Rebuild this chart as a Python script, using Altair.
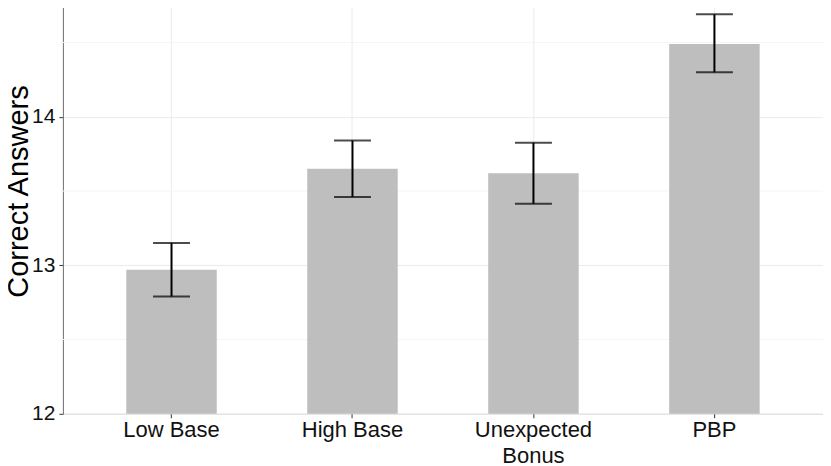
import altair as alt
import pandas as pd

categories = ["Low Base", "High Base", "Unexpected Bonus", "PBP"]
means = [12.97, 13.65, 13.62, 14.49]
lower = [12.79, 13.46, 13.415, 14.30]
upper = [13.15, 13.84, 13.825, 14.69]
minor_grid = [12.5, 13.5, 14.5]

df = pd.DataFrame({"cond": categories, "mean": means, "lo": lower, "hi": upper})
grid_df = pd.DataFrame({"g": minor_grid})

FONT = "Liberation Sans"

x_enc = alt.X(
    "cond:N",
    sort=categories,
    scale=alt.Scale(paddingInner=0.5, paddingOuter=0.35),
    axis=alt.Axis(
        title=None,
        domain=False,
        grid=True,
        gridColor="#EBEBEB",
        gridWidth=1,
        bandPosition=0.5,
        tickSize=4,
        tickColor="#333333",
        labelPadding=2,
        labelFontSize=22,
        labelLineHeight=25.5,
        labelColor="#111111",
        labelAngle=0,
        labelExpr="datum.label == 'Unexpected Bonus' ? ['Unexpected', 'Bonus'] : datum.label",
    ),
)

y_scale = alt.Scale(domain=[12, 15], nice=False, zero=False)

bars = alt.Chart(df).mark_bar(color="#BEBEBE").encode(
    x=x_enc,
    y=alt.Y(
        "mean:Q",
        scale=y_scale,
        axis=alt.Axis(
            title="Correct Answers",
            values=[12, 13, 14],
            format="d",
            grid=True,
            gridColor="#EBEBEB",
            gridWidth=1,
            domain=True,
            domainColor="#777777",
            tickSize=4,
            tickColor="#333333",
            labelPadding=4,
            labelFontSize=21,
            labelColor="#111111",
            titleFontSize=29,
            titleFontWeight="normal",
            titleColor="#000000",
            titleBaseline="alphabetic",
            titleX=-35,
        ),
    ),
    y2=alt.datum(12),
)

minor = alt.Chart(grid_df).mark_rule(color="#F5F5F5", strokeWidth=1).encode(
    y=alt.Y("g:Q", scale=y_scale)
)

whisk = alt.Chart(df).mark_rule(color="black", strokeWidth=2).encode(
    x=alt.X("cond:N", sort=categories),
    y=alt.Y("lo:Q", scale=y_scale),
    y2="hi:Q",
)

cap_lo = alt.Chart(df).mark_tick(color="black", thickness=2, size=37).encode(
    x=alt.X("cond:N", sort=categories),
    y=alt.Y("lo:Q", scale=y_scale),
)
cap_hi = alt.Chart(df).mark_tick(color="black", thickness=2, size=37).encode(
    x=alt.X("cond:N", sort=categories),
    y=alt.Y("hi:Q", scale=y_scale),
)

chart = (
    alt.layer(minor, bars, whisk, cap_lo, cap_hi)
    .properties(
        width=761,
        height=446,
        autosize=alt.AutoSizeParams(type="none"),
        padding={"top": -40, "left": 55, "right": 0, "bottom": 50},
        background="white",
    )
    .configure_view(stroke="#BFBFBF", strokeWidth=1)
    .configure_axis(labelFont=FONT, titleFont=FONT)
)

chart.save("out.html", embed_options={"renderer": "svg", "actions": False})
